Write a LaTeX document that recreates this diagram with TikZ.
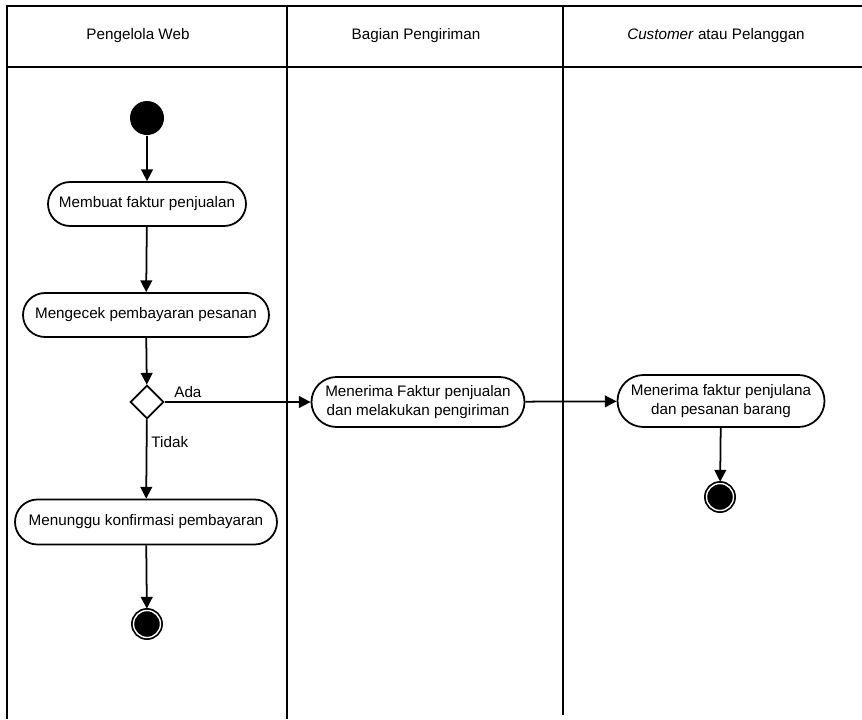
\documentclass[tikz,border=0pt]{standalone}
\usepackage{fontspec}
\setmainfont{Liberation Sans}
\usetikzlibrary{arrows.meta,shapes.geometric,shapes.misc}
\begin{document}
\begin{tikzpicture}[x=0.03cm, y=-0.03cm, line width=1.5pt,
    font=\fontsize{13}{15.6}\selectfont,
    aktivitas/.style={rounded rectangle, draw, fill=white, align=center, inner sep=0pt},
    mulai/.style={circle, fill=black, minimum size=1.02cm, inner sep=0pt},
    akhir/.style={circle, draw, fill=black, double=white, double distance=1.2pt,
      minimum size=0.81cm, inner sep=0pt, outer sep=1.6pt},
    keputusan/.style={diamond, draw, fill=white, minimum size=1.0cm, inner sep=0pt},
    panah/.style={-{Triangle[length=10pt,width=10pt]}}]
            \useasboundingbox (0,0) rectangle (862,719);

            % swimlane
            \draw (7,719) -- (7,6) -- (862,6);
            \draw (7,67) -- (862,67);
            \draw (287,6) -- (287,719);
            \draw (563,6) -- (563,715);

            % judul kolom
            \node (judul1) at (138,36) {Pengelola Web};
            \node (judul2) at (416,36) {Bagian Pengiriman};
            \node (judul3) at (716,36) {\textit{Customer} atau Pelanggan};

            % aktivitas
            \node [mulai] (mulai) at (147,118) {};
            \node [aktivitas, minimum width=5.94cm, minimum height=1.32cm] (faktur) at (147,204) {Membuat faktur penjualan};
            \node [aktivitas, minimum width=7.38cm, minimum height=1.32cm] (cek) at (146,315) {Mengecek pembayaran pesanan};
            \node [keputusan] (pilih) at (147,402) {};
            \node [aktivitas, minimum width=7.86cm, minimum height=1.35cm] (tunggu) at (146,522) {Menunggu konfirmasi pembayaran};
            \node [akhir] (akhir1) at (147,624) {};
            \node [aktivitas, minimum width=6.39cm, minimum height=1.5cm] (kirim) at (418,402) {Menerima Faktur penjualan\\dan melakukan pengiriman};
            \node [aktivitas, minimum width=6.21cm, minimum height=1.56cm] (terima) at (721,401) {Menerima faktur penjulana\\dan pesanan barang};
            \node [akhir] (akhir2) at (720,497) {};

            % alur
            \draw [panah] (mulai) -- (faktur);
            \draw [panah] (faktur) -- (cek);
            \draw [panah] (cek) -- (pilih);
            \draw [panah] (pilih) -- node [above, pos=0.16] (ada) {Ada} (kirim);
            \draw [panah] (pilih) -- node [right, pos=0.28] (tidak) {Tidak} (tunggu);
            \draw [panah] (kirim) -- (terima);
            \draw [panah] (terima) -- (akhir2);
            \draw [panah] (tunggu) -- (akhir1);
        \end{tikzpicture}
\end{document}
